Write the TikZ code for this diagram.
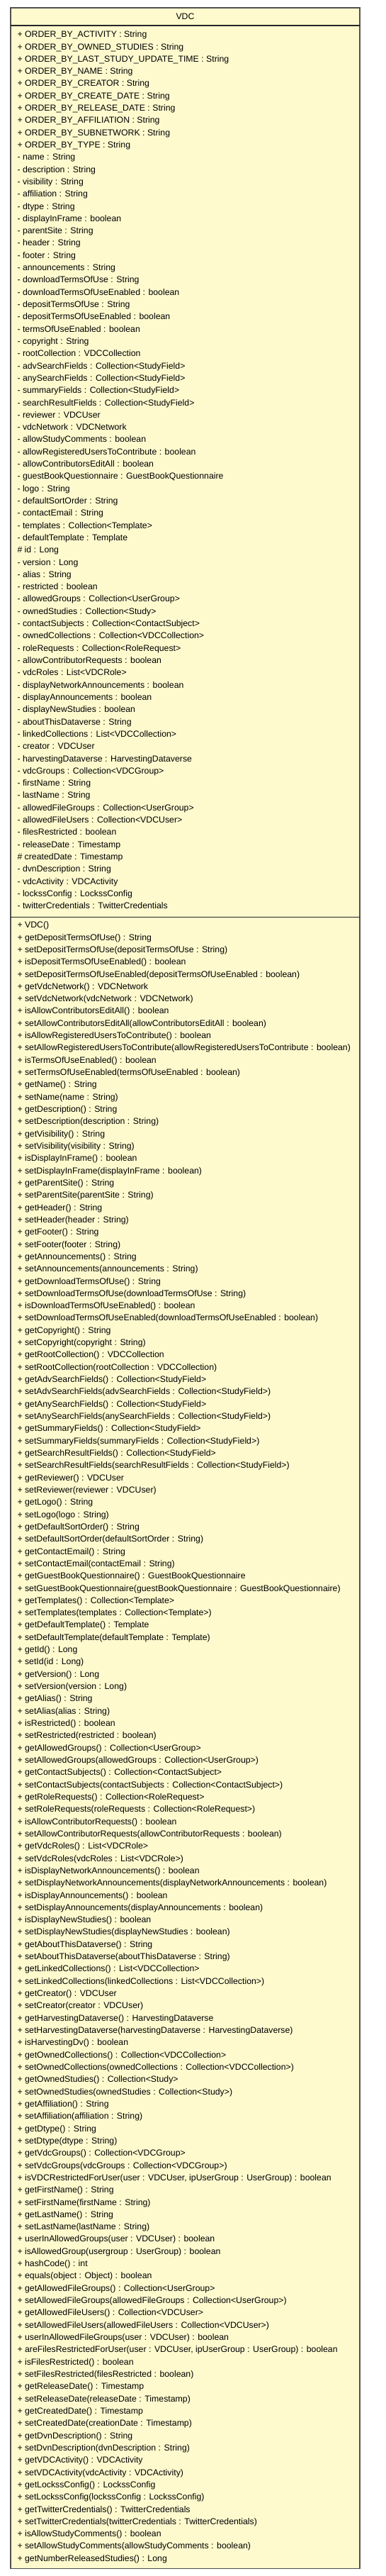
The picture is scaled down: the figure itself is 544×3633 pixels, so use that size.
\documentclass[tikz,border=0pt]{standalone}
\usepackage{fontspec}
\setmainfont{Liberation Sans}
\definecolor{umlfill}{RGB}{254,250,206}
\definecolor{umlline}{RGB}{80,80,80}
\tikzset{
  member/.style={anchor=west, inner sep=0pt, text height=8.8pt, text depth=0pt,
    font=\fontsize{12.3pt}{14pt}\selectfont, text=black},
  classbox/.style={draw=umlline, line width=1.3pt, fill=umlfill},
  divider/.style={draw=black!85, line width=1.1pt}
}
\begin{document}
\begin{tikzpicture}[x=1pt,y=1pt]
\useasboundingbox (0,0) rectangle (544,-3633);
\path[classbox] (15,-11) rectangle (508,-3622.7);
\node[member, anchor=center] (title) at (261.5,-22.8) {VDC};
\coordinate (h1l) at (15,-36);
\coordinate (h1r) at (508,-36);
\coordinate (h2l) at (15,-1293.3);
\coordinate (h2r) at (508,-1293.3);
\draw[divider] (h1l) -- (h1r);
\draw[divider] (h2l) -- (h2r);
\foreach \t [count=\i] in {
{+ ORDER\_BY\_ACTIVITY : String},
{+ ORDER\_BY\_OWNED\_STUDIES : String},
{+ ORDER\_BY\_LAST\_STUDY\_UPDATE\_TIME : String},
{+ ORDER\_BY\_NAME : String},
{+ ORDER\_BY\_CREATOR : String},
{+ ORDER\_BY\_CREATE\_DATE : String},
{+ ORDER\_BY\_RELEASE\_DATE : String},
{+ ORDER\_BY\_AFFILIATION : String},
{+ ORDER\_BY\_SUBNETWORK : String},
{+ ORDER\_BY\_TYPE : String},
{- name : String},
{- description : String},
{- visibility : String},
{- affiliation : String},
{- dtype : String},
{- displayInFrame : boolean},
{- parentSite : String},
{- header : String},
{- footer : String},
{- announcements : String},
{- downloadTermsOfUse : String},
{- downloadTermsOfUseEnabled : boolean},
{- depositTermsOfUse : String},
{- depositTermsOfUseEnabled : boolean},
{- termsOfUseEnabled : boolean},
{- copyright : String},
{- rootCollection : VDCCollection},
{- advSearchFields : Collection<StudyField>},
{- anySearchFields : Collection<StudyField>},
{- summaryFields : Collection<StudyField>},
{- searchResultFields : Collection<StudyField>},
{- reviewer : VDCUser},
{- vdcNetwork : VDCNetwork},
{- allowStudyComments : boolean},
{- allowRegisteredUsersToContribute : boolean},
{- allowContributorsEditAll : boolean},
{- guestBookQuestionnaire : GuestBookQuestionnaire},
{- logo : String},
{- defaultSortOrder : String},
{- contactEmail : String},
{- templates : Collection<Template>},
{- defaultTemplate : Template},
{\# id : Long},
{- version : Long},
{- alias : String},
{- restricted : boolean},
{- allowedGroups : Collection<UserGroup>},
{- ownedStudies : Collection<Study>},
{- contactSubjects : Collection<ContactSubject>},
{- ownedCollections : Collection<VDCCollection>},
{- roleRequests : Collection<RoleRequest>},
{- allowContributorRequests : boolean},
{- vdcRoles : List<VDCRole>},
{- displayNetworkAnnouncements : boolean},
{- displayAnnouncements : boolean},
{- displayNewStudies : boolean},
{- aboutThisDataverse : String},
{- linkedCollections : List<VDCCollection>},
{- creator : VDCUser},
{- harvestingDataverse : HarvestingDataverse},
{- vdcGroups : Collection<VDCGroup>},
{- firstName : String},
{- lastName : String},
{- allowedFileGroups : Collection<UserGroup>},
{- allowedFileUsers : Collection<VDCUser>},
{- filesRestricted : boolean},
{- releaseDate : Timestamp},
{\# createdDate : Timestamp},
{- dvnDescription : String},
{- vdcActivity : VDCActivity},
{- lockssConfig : LockssConfig},
{- twitterCredentials : TwitterCredentials}
}{
  \node[member] (a\i) at (24.3,{-48.3-(\i-1)*17.31}) {\t};
}
\foreach \t [count=\i] in {
{+ VDC()},
{+ getDepositTermsOfUse() : String},
{+ setDepositTermsOfUse(depositTermsOfUse : String)},
{+ isDepositTermsOfUseEnabled() : boolean},
{+ setDepositTermsOfUseEnabled(depositTermsOfUseEnabled : boolean)},
{+ getVdcNetwork() : VDCNetwork},
{+ setVdcNetwork(vdcNetwork : VDCNetwork)},
{+ isAllowContributorsEditAll() : boolean},
{+ setAllowContributorsEditAll(allowContributorsEditAll : boolean)},
{+ isAllowRegisteredUsersToContribute() : boolean},
{+ setAllowRegisteredUsersToContribute(allowRegisteredUsersToContribute : boolean)},
{+ isTermsOfUseEnabled() : boolean},
{+ setTermsOfUseEnabled(termsOfUseEnabled : boolean)},
{+ getName() : String},
{+ setName(name : String)},
{+ getDescription() : String},
{+ setDescription(description : String)},
{+ getVisibility() : String},
{+ setVisibility(visibility : String)},
{+ isDisplayInFrame() : boolean},
{+ setDisplayInFrame(displayInFrame : boolean)},
{+ getParentSite() : String},
{+ setParentSite(parentSite : String)},
{+ getHeader() : String},
{+ setHeader(header : String)},
{+ getFooter() : String},
{+ setFooter(footer : String)},
{+ getAnnouncements() : String},
{+ setAnnouncements(announcements : String)},
{+ getDownloadTermsOfUse() : String},
{+ setDownloadTermsOfUse(downloadTermsOfUse : String)},
{+ isDownloadTermsOfUseEnabled() : boolean},
{+ setDownloadTermsOfUseEnabled(downloadTermsOfUseEnabled : boolean)},
{+ getCopyright() : String},
{+ setCopyright(copyright : String)},
{+ getRootCollection() : VDCCollection},
{+ setRootCollection(rootCollection : VDCCollection)},
{+ getAdvSearchFields() : Collection<StudyField>},
{+ setAdvSearchFields(advSearchFields : Collection<StudyField>)},
{+ getAnySearchFields() : Collection<StudyField>},
{+ setAnySearchFields(anySearchFields : Collection<StudyField>)},
{+ getSummaryFields() : Collection<StudyField>},
{+ setSummaryFields(summaryFields : Collection<StudyField>)},
{+ getSearchResultFields() : Collection<StudyField>},
{+ setSearchResultFields(searchResultFields : Collection<StudyField>)},
{+ getReviewer() : VDCUser},
{+ setReviewer(reviewer : VDCUser)},
{+ getLogo() : String},
{+ setLogo(logo : String)},
{+ getDefaultSortOrder() : String},
{+ setDefaultSortOrder(defaultSortOrder : String)},
{+ getContactEmail() : String},
{+ setContactEmail(contactEmail : String)},
{+ getGuestBookQuestionnaire() : GuestBookQuestionnaire},
{+ setGuestBookQuestionnaire(guestBookQuestionnaire : GuestBookQuestionnaire)},
{+ getTemplates() : Collection<Template>},
{+ setTemplates(templates : Collection<Template>)},
{+ getDefaultTemplate() : Template},
{+ setDefaultTemplate(defaultTemplate : Template)},
{+ getId() : Long},
{+ setId(id : Long)},
{+ getVersion() : Long},
{+ setVersion(version : Long)},
{+ getAlias() : String},
{+ setAlias(alias : String)},
{+ isRestricted() : boolean},
{+ setRestricted(restricted : boolean)},
{+ getAllowedGroups() : Collection<UserGroup>},
{+ setAllowedGroups(allowedGroups : Collection<UserGroup>)},
{+ getContactSubjects() : Collection<ContactSubject>},
{+ setContactSubjects(contactSubjects : Collection<ContactSubject>)},
{+ getRoleRequests() : Collection<RoleRequest>},
{+ setRoleRequests(roleRequests : Collection<RoleRequest>)},
{+ isAllowContributorRequests() : boolean},
{+ setAllowContributorRequests(allowContributorRequests : boolean)},
{+ getVdcRoles() : List<VDCRole>},
{+ setVdcRoles(vdcRoles : List<VDCRole>)},
{+ isDisplayNetworkAnnouncements() : boolean},
{+ setDisplayNetworkAnnouncements(displayNetworkAnnouncements : boolean)},
{+ isDisplayAnnouncements() : boolean},
{+ setDisplayAnnouncements(displayAnnouncements : boolean)},
{+ isDisplayNewStudies() : boolean},
{+ setDisplayNewStudies(displayNewStudies : boolean)},
{+ getAboutThisDataverse() : String},
{+ setAboutThisDataverse(aboutThisDataverse : String)},
{+ getLinkedCollections() : List<VDCCollection>},
{+ setLinkedCollections(linkedCollections : List<VDCCollection>)},
{+ getCreator() : VDCUser},
{+ setCreator(creator : VDCUser)},
{+ getHarvestingDataverse() : HarvestingDataverse},
{+ setHarvestingDataverse(harvestingDataverse : HarvestingDataverse)},
{+ isHarvestingDv() : boolean},
{+ getOwnedCollections() : Collection<VDCCollection>},
{+ setOwnedCollections(ownedCollections : Collection<VDCCollection>)},
{+ getOwnedStudies() : Collection<Study>},
{+ setOwnedStudies(ownedStudies : Collection<Study>)},
{+ getAffiliation() : String},
{+ setAffiliation(affiliation : String)},
{+ getDtype() : String},
{+ setDtype(dtype : String)},
{+ getVdcGroups() : Collection<VDCGroup>},
{+ setVdcGroups(vdcGroups : Collection<VDCGroup>)},
{+ isVDCRestrictedForUser(user : VDCUser, ipUserGroup : UserGroup) : boolean},
{+ getFirstName() : String},
{+ setFirstName(firstName : String)},
{+ getLastName() : String},
{+ setLastName(lastName : String)},
{+ userInAllowedGroups(user : VDCUser) : boolean},
{+ isAllowedGroup(usergroup : UserGroup) : boolean},
{+ hashCode() : int},
{+ equals(object : Object) : boolean},
{+ getAllowedFileGroups() : Collection<UserGroup>},
{+ setAllowedFileGroups(allowedFileGroups : Collection<UserGroup>)},
{+ getAllowedFileUsers() : Collection<VDCUser>},
{+ setAllowedFileUsers(allowedFileUsers : Collection<VDCUser>)},
{+ userInAllowedFileGroups(user : VDCUser) : boolean},
{+ areFilesRestrictedForUser(user : VDCUser, ipUserGroup : UserGroup) : boolean},
{+ isFilesRestricted() : boolean},
{+ setFilesRestricted(filesRestricted : boolean)},
{+ getReleaseDate() : Timestamp},
{+ setReleaseDate(releaseDate : Timestamp)},
{+ getCreatedDate() : Timestamp},
{+ setCreatedDate(creationDate : Timestamp)},
{+ getDvnDescription() : String},
{+ setDvnDescription(dvnDescription : String)},
{+ getVDCActivity() : VDCActivity},
{+ setVDCActivity(vdcActivity : VDCActivity)},
{+ getLockssConfig() : LockssConfig},
{+ setLockssConfig(lockssConfig : LockssConfig)},
{+ getTwitterCredentials() : TwitterCredentials},
{+ setTwitterCredentials(twitterCredentials : TwitterCredentials)},
{+ isAllowStudyComments() : boolean},
{+ setAllowStudyComments(allowStudyComments : boolean)},
{+ getNumberReleasedStudies() : Long}
}{
  \node[member] (m\i) at (24.3,{-1304.3-(\i-1)*17.32}) {\t};
}
\end{tikzpicture}
\end{document}
